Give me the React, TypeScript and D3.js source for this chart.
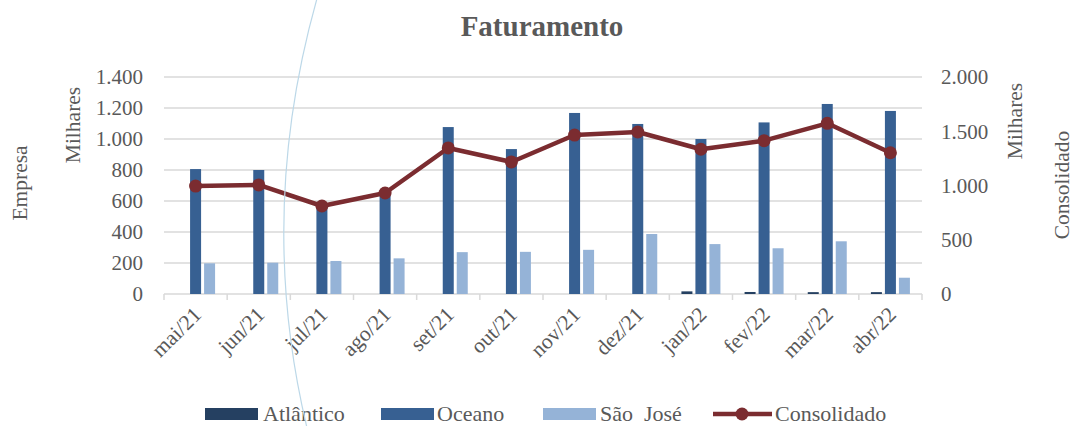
import React from 'react';
import * as d3 from 'd3';

const months = ['mai/21', 'jun/21', 'jul/21', 'ago/21', 'set/21', 'out/21', 'nov/21', 'dez/21', 'jan/22', 'fev/22', 'mar/22', 'abr/22'];
const series = ['Atlântico', 'Oceano', 'São José'];
// milhares
const atlantico = [0, 0, 0, 0, 0, 0, 0, 0, 17, 13, 12, 12];
const oceano = [806, 800, 575, 660, 1077, 935, 1168, 1097, 1000, 1107, 1226, 1181];
const saoJose = [198, 202, 213, 230, 270, 272, 285, 387, 322, 295, 340, 105];
const consolidado = [995, 1005, 811, 931, 1346, 1217, 1465, 1493, 1334, 1413, 1573, 1302];
const leftTicks = [0, 200, 400, 600, 800, 1000, 1200, 1400];
const rightTicks = [0, 500, 1000, 1500, 2000];

const colors = ['#254061', '#376092', '#95b3d7'];
const lineColor = '#7b2c30';
const textColor = '#595959';
const gridColor = '#d9d9d9';
const font = '"Liberation Serif", "DejaVu Serif", serif';

const fmt = (v: number) => d3.format(',')(v).replace(/,/g, '.');

export default function App() {
  const W = 1075, H = 426;
  const left = 164, right = 922, top = 77, bottom = 294;

  const x0 = d3.scaleBand<string>().domain(months).range([left, right]);
  const bw = x0.bandwidth();
  const x1 = d3.scaleBand<string>().domain(series).range([bw / 2 - 19.5, bw / 2 + 19.5]).paddingInner(0.214);
  const yL = d3.scaleLinear().domain([0, 1400]).range([bottom, top]);
  const yR = d3.scaleLinear().domain([0, 2000]).range([bottom, top]);

  const values = [atlantico, oceano, saoJose];
  const line = d3.line<number>()
    .x((_, i) => (x0(months[i]) as number) + bw / 2)
    .y((d) => yR(d));

  const legendBoxes = [
    { label: 'Atlântico', x: 205, tx: 263, c: colors[0] },
    { label: 'Oceano', x: 381, tx: 437, c: colors[1] },
    { label: 'São\u00a0 José', x: 543, tx: 600, c: colors[2] },
  ];

  return (
    <div style={{ position: 'absolute', left: 0, top: 0 }}>
      <svg width={W} height={H} style={{ display: 'block' }} fontFamily={font}>
        <rect width={W} height={H} fill="white" />
        <text x={542} y={36} textAnchor="middle" fontSize={29} fontWeight="bold" fill={textColor}>Faturamento</text>

        {leftTicks.map((t) => (
          <g key={t}>
            <line x1={left} x2={right} y1={yL(t)} y2={yL(t)} stroke={gridColor} strokeWidth={1.5} />
            <text x={143} y={yL(t)} dy="0.35em" textAnchor="end" fontSize={21} fill={textColor}>{fmt(t)}</text>
          </g>
        ))}
        {rightTicks.map((t) => (
          <text key={t} x={941} y={yR(t)} dy="0.35em" fontSize={21} fill={textColor}>{fmt(t)}</text>
        ))}

        {months.map((m) => (
          <line key={m} x1={(x0(m) as number)} x2={(x0(m) as number)} y1={bottom} y2={bottom + 6} stroke={gridColor} strokeWidth={1.5} />
        ))}
        <line x1={right} x2={right} y1={bottom} y2={bottom + 6} stroke={gridColor} strokeWidth={1.5} />

        {months.map((m, i) => (
          <g key={m} transform={`translate(${x0(m)},0)`}>
            {series.map((s, k) => {
              const v = values[k][i];
              if (!v) return null;
              return <rect key={s} x={x1(s)} width={x1.bandwidth()} y={yL(v)} height={yL(0) - yL(v)} fill={colors[k]} />;
            })}
          </g>
        ))}

        <path d={line(consolidado) || ''} fill="none" stroke={lineColor} strokeWidth={4.5} strokeLinejoin="round" />
        {consolidado.map((v, i) => (
          <circle key={i} cx={(x0(months[i]) as number) + bw / 2} cy={yR(v)} r={6.5} fill={lineColor} />
        ))}

        {months.map((m) => (
          <text key={m} transform={`translate(${(x0(m) as number) + bw / 2 + 7},316) rotate(-45)`} textAnchor="end" fontSize={21.5} fill={textColor}>{m}</text>
        ))}

        <text transform="translate(80,125) rotate(-90)" textAnchor="middle" fontSize={21.5} fill={textColor}>Milhares</text>
        <text transform="translate(27,183) rotate(-90)" textAnchor="middle" fontSize={21.5} fill={textColor}>Empresa</text>
        <text transform="translate(1022,121) rotate(-90)" textAnchor="middle" fontSize={21.5} fill={textColor}>Milhares</text>
        <text transform="translate(1069,185) rotate(-90)" textAnchor="middle" fontSize={21.5} fill={textColor}>Consolidado</text>

        {legendBoxes.map((b) => (
          <g key={b.label}>
            <rect x={b.x} y={408} width={53} height={12} fill={b.c} />
            <text x={b.tx} y={421} fontSize={22} fontFamily={font} fill={textColor}>{b.label}</text>
          </g>
        ))}
        <line x1={713} x2={772} y1={414} y2={414} stroke={lineColor} strokeWidth={4.5} />
        <circle cx={742} cy={414} r={6.5} fill={lineColor} />
        <text x={775} y={421} fontSize={22} fontFamily={font} fill={textColor}>Consolidado</text>

        <path d="M318,-5 Q255,215 308,432" fill="none" stroke="#bcd8e8" strokeWidth={1.2} />
      </svg>
    </div>
  );
}
